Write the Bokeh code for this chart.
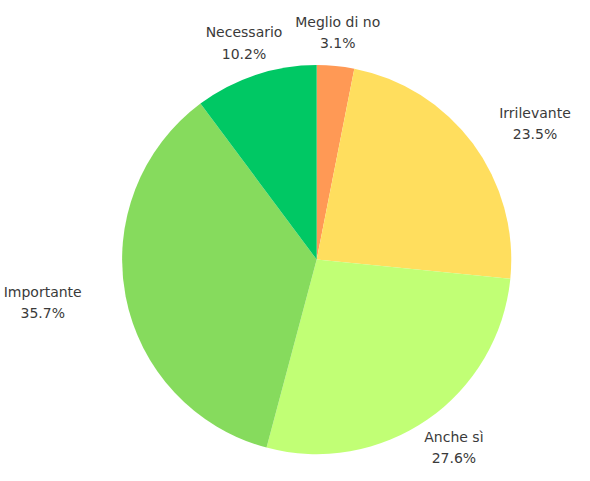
import math
from bokeh.plotting import figure
from bokeh.models import Range1d, ColumnDataSource
from bokeh.core.properties import value
from bokeh.embed import file_html
from bokeh.resources import INLINE

# Data (clockwise from 12 o'clock)
categories = ["Meglio di no", "Irrilevante", "Anche sì", "Importante", "Necessario"]
percentages = [3.1, 23.5, 27.6, 35.7, 10.2]
colors = ["#FF9955", "#FFDE5E", "#C1FF75", "#86DB5D", "#00C864"]

W, H = 574, 465
p = figure(width=W, height=H, output_backend="svg", toolbar_location=None,
           x_range=Range1d(0, 590), y_range=Range1d(0, 481),
           min_border=0, background_fill_color="white", border_fill_color="white")
p.axis.visible = False
p.grid.visible = False
p.outline_line_color = None

cx, cy, R = 325, 213, 200
total = sum(percentages)

starts, ends, mids = [], [], []
acc = 0.0
for v in percentages:
    a0 = math.pi / 2 - 2 * math.pi * acc / total
    acc += v
    a1 = math.pi / 2 - 2 * math.pi * acc / total
    starts.append(a0)
    ends.append(a1)
    mids.append((a0 + a1) / 2)

src = ColumnDataSource(dict(start=starts, end=ends, color=colors))
p.wedge(x=cx, y=cy, radius=R, start_angle="start", end_angle="end",
        direction="clock", fill_color="color", line_color=None, source=src)

# labels placed outside along mid-angle
R0 = 214
line_h = 22
k = 1.9
lx, ly1, ly2, t1, t2 = [], [], [], [], []
for cat, v, m in zip(categories, percentages, mids):
    dx, dy = math.cos(m), math.sin(m)
    w = max(len(cat), len(f"{v:.1f}%")) * 7.8
    x = cx + R0 * dx + dx * abs(dx) * k * w / 2
    y = cy + R0 * dy + dy * line_h
    lx.append(x)
    ly1.append(y + line_h / 2)
    ly2.append(y - line_h / 2)
    t1.append(cat)
    t2.append(f"{v:.1f}%")

for ys, ts in ((ly1, t1), (ly2, t2)):
    p.text(x=lx, y=ys, text=ts, text_align="center", text_baseline="middle",
           text_font=value("DejaVu Sans"), text_font_size="14px",
           text_color="#3a3a3a")

open("out.html", "w").write(file_html(p, INLINE))
